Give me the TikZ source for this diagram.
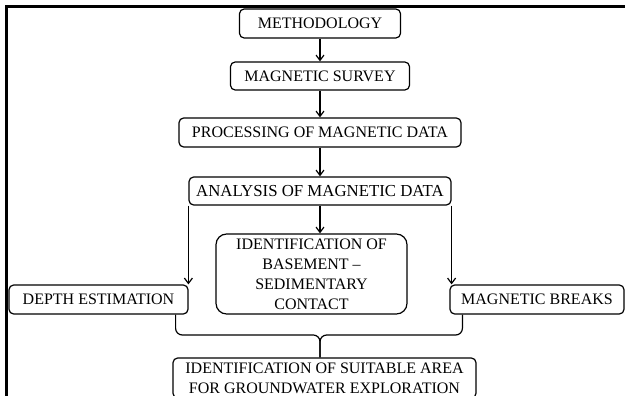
\documentclass[tikz,border=0pt]{standalone}
\usepackage{fontspec}
\setmainfont{Liberation Serif}
\usepackage{tikz}
\usetikzlibrary{arrows.meta}

\begin{document}
\begin{tikzpicture}[x=0.75pt,y=-0.75pt,
boxes/.style={rectangle,draw,rounded corners=3.5pt,line width=0.9pt,inner sep=0pt,align=center,font=\fontsize{12}{15}\selectfont},
bigboxes/.style={boxes,rounded corners=8pt},
flow/.style={line width=0.9pt,-{Straight Barb[length=4pt,width=6pt]}},
links/.style={line width=0.9pt,rounded corners=5pt}]
\useasboundingbox (0,0) rectangle (625,396);
% frame
\draw[line width=2.5pt] (6.5,396) -- (6.5,6.5) -- (625,6.5);

\node [boxes,minimum width=120.75pt,minimum height=21.75pt] (level0) at (320,23.5) {METHODOLOGY};
\node [boxes,minimum width=134.25pt,minimum height=21pt] (level1) at (320,76) {MAGNETIC SURVEY};
\node [boxes,minimum width=211.5pt,minimum height=21.75pt] (level2) at (320,132.5) {PROCESSING OF MAGNETIC DATA};
\node [boxes,minimum width=196.5pt,minimum height=21pt,font=\fontsize{12.6}{15}\selectfont] (level3) at (320,191) {ANALYSIS OF MAGNETIC DATA};

\node [boxes,minimum width=134.25pt,minimum height=21.75pt] (level4-0) at (98.5,299.5) {DEPTH ESTIMATION};
\node [bigboxes,minimum width=143.25pt,minimum height=60pt] (level4-1) at (311.5,274) {IDENTIFICATION OF\\ BASEMENT --\\ SEDIMENTARY\\ CONTACT};
\node [boxes,minimum width=130.5pt,minimum height=21.75pt] (level4-2) at (537,299.5) {MAGNETIC BREAKS};

\node [boxes,minimum width=227.25pt,minimum height=30pt] (level5) at (324.5,378) {IDENTIFICATION OF SUITABLE AREA\\ FOR GROUNDWATER EXPLORATION};

\draw[flow] (level0)--(level1);
\draw[flow] (level1)--(level2);
\draw[flow] (level2)--(level3);
\draw[flow] (level3.south)--(level3.south |- level4-1.north);
\draw[flow] (level3.south west)--(level3.south west |- level4-0.north);
\draw[flow] (level3.south east)--(level3.south east |- level4-2.north);

\coordinate (join) at (320,335);
\draw[links] ([xshift=-9.75pt]level4-0.south east) |- (join) -- (join |- level5.north);
\draw[links] ([xshift=9.75pt]level4-2.south west) |- (join) -- (join |- level5.north);
\end{tikzpicture}
\end{document}
